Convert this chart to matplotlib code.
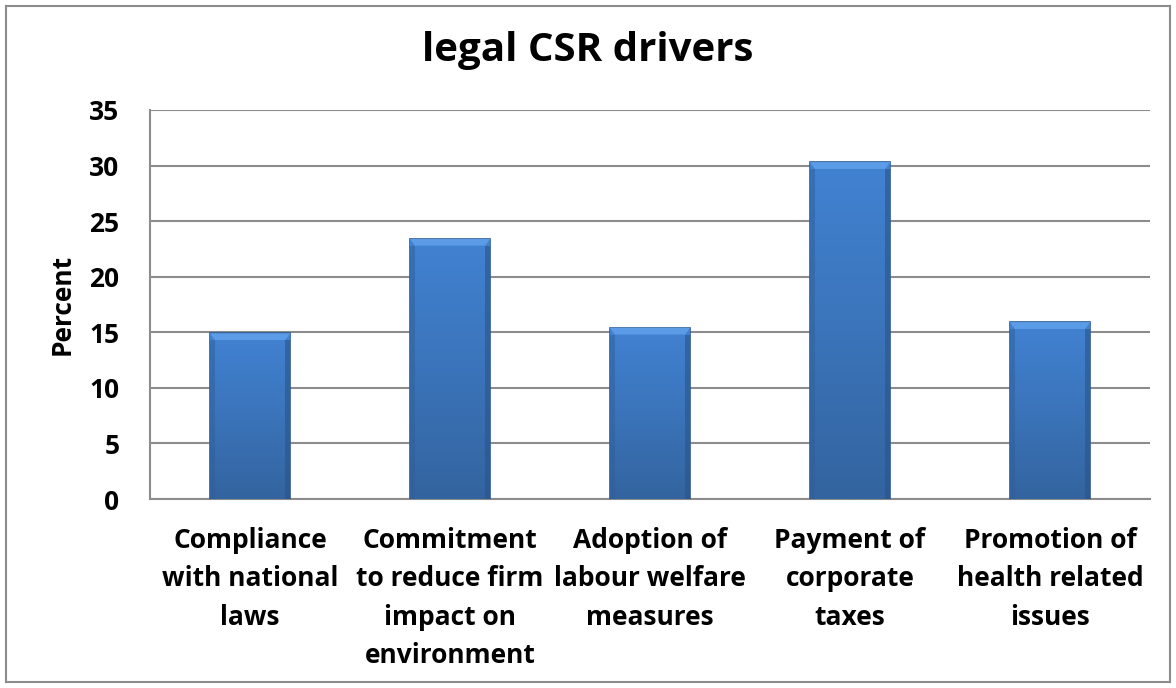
import matplotlib.pyplot as plt
from matplotlib.patches import Rectangle, Polygon
import numpy as np

categories = ['Compliance\nwith national\nlaws',
              'Commitment\nto reduce firm\nimpact on\nenvironment',
              'Adoption of\nlabour welfare\nmeasures',
              'Payment of\ncorporate\ntaxes',
              'Promotion of\nhealth related\nissues']
values = [14.9, 23.4, 15.4, 30.3, 15.9]
yticks = [0, 5, 10, 15, 20, 25, 30, 35]

plt.rcParams['font.family'] = ['Open Sans', 'DejaVu Sans']
plt.rcParams['font.weight'] = 'bold'

fig = plt.figure(figsize=(11.76, 6.88), dpi=100)
ax = fig.add_axes([150/1176, 1-499/688, 1000/1176, 389/688])

x = np.arange(len(values))
bars = ax.bar(x, values, width=0.4, color='#3b78c6', edgecolor='#2c5a93',
              linewidth=1.2, zorder=3)

# vertical gradient + bevel on each bar
grad = np.linspace(0, 1, 256).reshape(-1, 1)
cmap = plt.matplotlib.colors.LinearSegmentedColormap.from_list(
    'barblue', ['#33649f', '#3b74ba', '#4182d2'])
for b in bars:
    x0, w, h = b.get_x(), b.get_width(), b.get_height()
    im = ax.imshow(grad, extent=[x0, x0 + w, 0, h], origin='lower',
                   cmap=cmap, aspect='auto', zorder=3.5)
    im.set_clip_path(b)
    bev = 0.6
    ax.add_patch(Polygon([(x0, h), (x0 + w, h), (x0 + w - 0.06 * w, h - bev),
                          (x0 + 0.06 * w, h - bev)], closed=True,
                         color='#5c9ce6', zorder=4, lw=0))
    ax.add_patch(Rectangle((x0, 0), w * 0.06, h - bev, color='#2f5f9a',
                           zorder=4, lw=0, alpha=0.5))
    ax.add_patch(Rectangle((x0 + w * 0.94, 0), w * 0.06, h - bev,
                           color='#2a5389', zorder=4, lw=0, alpha=0.6))

ax.set_xlim(-0.5, 4.5)
ax.set_ylim(0, 35)
ax.set_yticks(yticks)
ax.set_xticks(x)
ax.set_xticklabels(categories, fontsize=19, fontweight='bold', linespacing=1.55,
                   va='top')
ax.tick_params(axis='y', labelsize=19, length=0, pad=22)
ax.tick_params(axis='x', length=0, pad=20)
for lab in ax.get_yticklabels():
    lab.set_fontweight('bold')

ax.yaxis.grid(True, color='#8c8c8c', linewidth=1.5, zorder=0)
ax.set_axisbelow(True)
for s in ['top', 'right']:
    ax.spines[s].set_visible(False)
for s in ['left', 'bottom']:
    ax.spines[s].set_color('#8c8c8c')
    ax.spines[s].set_linewidth(1.5)

ax.set_ylabel('Percent', fontsize=19, fontweight='bold', labelpad=10)
fig.text(0.5, 1 - 50/688, 'legal CSR drivers', ha='center', va='center',
         fontsize=29, fontweight='bold')

fig.patches.append(Rectangle((6/1176, 6/688), 1 - 12/1176, 1 - 12/688,
                             transform=fig.transFigure, fill=False,
                             edgecolor='#8c8c8c', linewidth=1.5))

fig.savefig('out.png', dpi=100)
